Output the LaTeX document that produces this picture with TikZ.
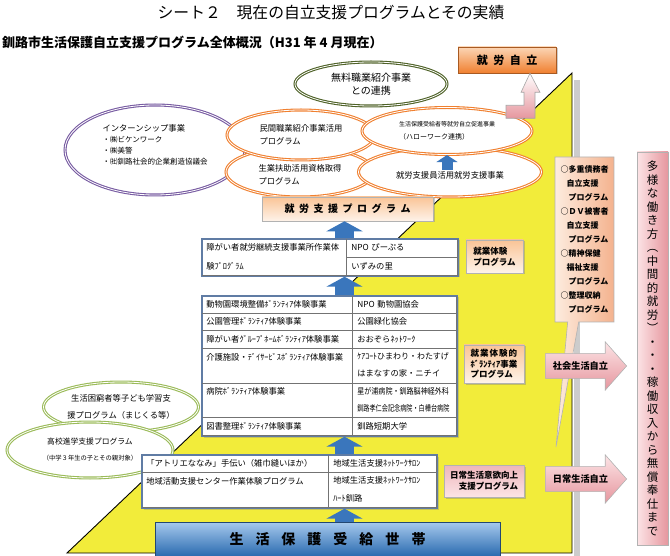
\documentclass[tikz,border=0pt]{standalone}
\usepackage{fontspec}
\setmainfont{Noto Sans CJK JP}
\usepackage{graphicx}
\usetikzlibrary{positioning,arrows.meta,shapes.geometric,shapes.arrows,shapes.callouts,shadows}
\definecolor{kiiro}{RGB}{242,236,58}
\definecolor{dai}{RGB}{240,128,48}
\definecolor{murasaki}{RGB}{120,92,162}
\definecolor{midori}{RGB}{155,187,89}
\definecolor{koke}{RGB}{79,98,40}
\definecolor{ao}{RGB}{58,118,188}
\definecolor{momo}{RGB}{230,150,158}
\definecolor{usumomo}{RGB}{252,228,230}
\definecolor{peach}{RGB}{250,196,150}
\definecolor{waku}{RGB}{96,124,164}
\newcommand{\fs}[2]{\fontsize{#1}{#2}\selectfont}
\newcommand{\ma}[1][4.5pt]{\hspace{#1}}
\newcommand{\hs}[2]{\scalebox{#1}[1]{#2}}
\tikzset{
  elp/.style={ellipse, draw=#1, line width=1.1pt, double=white, double distance=0.8pt,
    fill=white, inner sep=0pt, align=left, font=\fs{8.3}{13}},
  lbl/.style={draw=black!30, line width=0.6pt, top color=peach, bottom color=peach!20,
    drop shadow={shadow xshift=1.5pt, shadow yshift=-1.5pt, opacity=.4},
    font=\bfseries\fs{8.5}{11}, inner sep=0pt, align=left},
  pinklbl/.style={lbl, top color=momo!70, bottom color=usumomo},
  tframe/.style={draw=waku, line width=1.4pt, fill=white, inner sep=0pt,
    drop shadow={shadow xshift=1.5pt, shadow yshift=-1.5pt, opacity=.35}},
  tborder/.style={draw=waku, line width=1.4pt},
  cell/.style={draw=black!55, line width=0.5pt, anchor=north west, inner xsep=5pt,
    inner ysep=0pt, outer sep=0pt, align=left, font=\fs{8.3}{17}},
  barr/.style={draw=ao, line width=19pt, -{Triangle[width=36pt,length=10pt]}},
  barrs/.style={draw=ao, line width=11pt, -{Triangle[width=21pt,length=7pt]}},
  sarrow/.style={single arrow, draw=black!30, line width=0.6pt, top color=usumomo, bottom color=momo,
    minimum height=81pt, single arrow head extend=11.5pt, single arrow tip angle=97,
    inner ysep=8pt, inner xsep=0pt, font=\bfseries\fs{9.2}{10}},
  tate/.style={draw=black!30, line width=0.6pt, left color=usumomo, right color=momo,
    minimum width=31pt, minimum height=393pt, align=center, inner sep=0pt, font=\fs{11.5}{13.5}},
}

\begin{document}
\begin{tikzpicture}[x=1pt, y=-1pt]
\useasboundingbox (0,0) rectangle (670,556);
% 背景の三角形
\coordinate (sw) at (67,553);
\coordinate (ne) at (572,73);
\coordinate (se) at (572,553);
\fill[black!20] (574,80) rectangle (580,556);
\filldraw[fill=kiiro, draw=black, line width=0.9pt] (sw) -- (ne) -- (se) -- cycle;
% 楕円（就労支援）
\node[elp=murasaki, minimum width=180pt, minimum height=90pt, font=\fs{7.5}{11}] (intern) at (155,150)
  {{\fs{8.3}{11}インターンシップ事業}\\・㈱ビケンワーク\\・㈱美警\\・㈳釧路社会的企業創造協議会\\\mbox{}};
\node[elp=midori, minimum width=155pt, minimum height=50pt, align=center, font=\fs{8.3}{17}] (kodomo) at (121,407)
  {生活困窮者等子ども学習支\\援プログラム（まじくる等）};
\node[elp=midori, minimum width=166pt, minimum height=56pt, align=center, font=\fs{7.8}{16}] (koko) at (90,450)
  {高校進学支援プログラム\\{\fs{6.3}{16}（中学３年生の子とその親対象）}};
\node[elp=dai, minimum width=148pt, minimum height=50pt] (seigyo) at (300,172) {\mbox{}\\生業扶助活用資格取得\\プログラム};
\node[elp=dai, minimum width=183pt, minimum height=50pt, align=center] (shienin) at (450,172) {\mbox{}\\就労支援員活用就労支援事業};
\node[elp=dai, minimum width=148pt, minimum height=50pt] (minkan) at (301,135) {民間職業紹介事業活用\\プログラム};
\node[elp=dai, minimum width=170pt, minimum height=47pt, font=\fs{6}{13}] (hw) at (447,131)
  {生活保護受給者等就労自立促進事業\\{\fs{7}{13}（ハローワーク連携）}};
\node[elp=koke, minimum width=152pt, minimum height=44pt, align=center, font=\fs{10}{13}] (muryo) at (371,84) {無料職業紹介事業\\との連携};
\coordinate (ya) at (447,170);
\draw[barrs] (ya) -- (hw.south -| ya);
% 就労自立
\node[draw=dai!70!black, line width=.6pt, top color=peach!70, bottom color=dai, minimum width=98pt, minimum height=26pt,
  font=\bfseries\fs{11}{11}, drop shadow={shadow xshift=1.5pt, shadow yshift=-1.5pt, opacity=.4}] (jiritsu) at (507,60)
  {就\ma[5.5pt]労\ma[5.5pt]自\ma[5.5pt]立};
\coordinate (pk) at (530,0);
\shadedraw[draw=black!35, line width=.6pt, top color=white, bottom color=momo] (jiritsu.south -| pk)
  -- ++(10,19) -- ++(-5,0) -- ++(0,26) -- ++(-29,0) -- ++(0,-13) -- ++(18,0) -- ++(0,-13) -- ++(-3,0) -- cycle;
\node[lbl, minimum width=171pt, minimum height=24pt, font=\bfseries\fs{10}{10}] (shien) at (347.5,209)
  {就\ma{}労\ma{}支\ma{}援\ma{}プ\ma{}ロ\ma{}グ\ma{}ラ\ma{}ム};
% 表1 就業体験
\node[tframe, minimum width=256pt, minimum height=37pt] (t1) at (330,257.5) {};
\node[cell, text width=135pt, minimum height=37pt, font=\fs{8.3}{19}] (t1l) at (t1.north west) {障がい者就労継続支援事業所作業体\\験ﾌﾟﾛｸﾞﾗﾑ};
\node[cell, text width=101pt, minimum height=19pt] (t1r1) at (t1l.north east) {NPO ぴーぷる};
\node[cell, text width=101pt, minimum height=18pt] (t1r2) at (t1r1.south west) {いずみの里};
\draw[tborder] (t1.north west) rectangle (t1.south east);
\node[lbl, minimum width=57pt, minimum height=33pt] (l1) at (494.5,256.5) {就業体験\\プログラム};
% 表2 ボランティア
\node[tframe, minimum width=255pt, minimum height=140pt] (t2) at (329.5,366) {};
\node[cell, text width=141pt, minimum height=17.5pt] (t2l1) at (t2.north west) {動物園環境整備ﾎﾞﾗﾝﾃｨｱ体験事業};
\node[cell, text width=141pt, minimum height=17.5pt] (t2l2) at (t2l1.south west) {公園管理ﾎﾞﾗﾝﾃｨｱ体験事業};
\node[cell, text width=141pt, minimum height=17.5pt] (t2l3) at (t2l2.south west) {障がい者ｸﾞﾙｰﾌﾟﾎｰﾑﾎﾞﾗﾝﾃｨｱ体験事業};
\node[cell, text width=141pt, minimum height=35pt] (t2l4) at (t2l3.south west) {介護施設・ﾃﾞｲｻｰﾋﾞｽﾎﾞﾗﾝﾃｨｱ体験事業\\\mbox{}};
\node[cell, text width=141pt, minimum height=34pt] (t2l5) at (t2l4.south west) {病院ﾎﾞﾗﾝﾃｨｱ体験事業\\\mbox{}};
\node[cell, text width=141pt, minimum height=18.5pt] (t2l6) at (t2l5.south west) {図書整理ﾎﾞﾗﾝﾃｨｱ体験事業};
\node[cell, text width=94pt, minimum height=17.5pt] (t2r1) at (t2l1.north east) {NPO 動物園協会};
\node[cell, text width=94pt, minimum height=17.5pt] (t2r2) at (t2l2.north east) {公園緑化協会};
\node[cell, text width=94pt, minimum height=17.5pt] (t2r3) at (t2l3.north east) {おおぞらﾈｯﾄﾜｰｸ};
\node[cell, text width=94pt, minimum height=35pt] (t2r4) at (t2l4.north east) {\hs{0.96}{ｹｱｺｰﾄひまわり・わたすげ}\\はまなすの家・ニチイ};
\node[cell, text width=94pt, minimum height=34pt] (t2r5) at (t2l5.north east) {\hs{0.85}{星が浦病院・釧路脳神経外科}\\\hs{0.74}{釧路孝仁会記念病院・白樺台病院}};
\node[cell, text width=94pt, minimum height=18.5pt] (t2r6) at (t2l6.north east) {釧路短期大学};
\draw[tborder] (t2.north west) rectangle (t2.south east);
\node[lbl, minimum width=60pt, minimum height=38pt, font=\bfseries\fs{8.5}{10.5}] (l2) at (494,364)
  {就\ma[1pt]業\ma[1pt]体\ma[1pt]験\ma[1pt]的\\ﾎﾞﾗﾝﾃｨｱ事業\\プログラム};
% 表3 日常生活
\node[tframe, minimum width=295pt, minimum height=53pt] (t3) at (289.5,481.5) {};
\node[cell, text width=177pt, minimum height=18pt] (t3l1) at (t3.north west) {「アトリエななみ」手伝い（雑巾縫いほか）};
\node[cell, text width=177pt, minimum height=35pt, font=\fs{8.3}{18}] (t3l2) at (t3l1.south west) {地域活動支援センター作業体験プログラム\\\mbox{}};
\node[cell, text width=98pt, minimum height=18pt] (t3r1) at (t3l1.north east) {地域生活支援ﾈｯﾄﾜｰｸｻﾛﾝ};
\node[cell, text width=98pt, minimum height=35pt, font=\fs{8.3}{18}] (t3r2) at (t3l2.north east) {地域生活支援ﾈｯﾄﾜｰｸｻﾛﾝ\\ﾊｰﾄ釧路};
\draw[tborder] (t3.north west) rectangle (t3.south east);
\node[pinklbl, minimum width=80pt, minimum height=32pt, align=right] (l3) at (484,481) {日常生活意欲向上\\支援プログラム};
% 生活保護受給世帯
\node[draw=ao!60!black, line width=.6pt, top color={rgb,255:red,165;green,200;blue,236}, bottom color={rgb,255:red,40;green,105;blue,175},
  minimum width=345pt, minimum height=34pt, font=\bfseries\fs{14}{14}] (setai) at (327.5,539.5)
  {生\ma[12pt]活\ma[12pt]保\ma[12pt]護\ma[12pt]受\ma[12pt]給\ma[12pt]世\ma[12pt]帯};
% 矢印
\coordinate (ax) at (344.5,0);
\draw[barr] (setai.north -| ax) -- (t3.south -| ax);
\draw[barr] (t3.north -| ax) -- (t2.south -| ax);
\draw[barr] (t2.north -| ax) -- (t1.south -| ax);
\draw[barr] (t1.north -| ax) -- (shien.south -| ax);
% 右側
\node[rectangle callout, callout absolute pointer={(556,447)}, callout pointer width=11pt, draw=black!30, line width=.6pt,
  left color={rgb,255:red,253;green,236;blue,222}, right color={rgb,255:red,244;green,178;blue,142},
  minimum width=59pt, minimum height=165pt, align=left, inner sep=0pt, font=\bfseries\fs{8}{14}] (tasai) at (584.5,239.5)
  {○多重債務者\\\hspace*{6pt}自立支援\\\hspace*{8pt}プログラム\\○ＤＶ被害者\\\hspace*{6pt}自立支援\\\hspace*{8pt}プログラム\\○精神保健\\\hspace*{6pt}福祉支援\\\hspace*{8pt}プログラム\\○整理収納\\\hspace*{8pt}プログラム};
\node[sarrow] (shakai) at (580.5,366) {社会生活自立};
\node[sarrow] (nichijo) at (580.5,479) {日常生活自立};
\node[tate] (tayo) at (652.5,348.5)
  {多\\様\\な\\働\\き\\方\\︵\\中\\間\\的\\就\\労\\︶\\・\\・\\・\\稼\\働\\収\\入\\か\\ら\\無\\償\\奉\\仕\\ま\\で};
% 見出し
\node[font=\fs{15.8}{16}] (title) at (331,13) {シート２　現在の自立支援プログラムとその実績};
\node[anchor=west, inner sep=0pt, font=\bfseries\fs{13}{13}] (sub) at (2,42) {釧路市生活保護自立支援プログラム全体概況（H31 年 4 月現在）};
\end{tikzpicture}
\end{document}
